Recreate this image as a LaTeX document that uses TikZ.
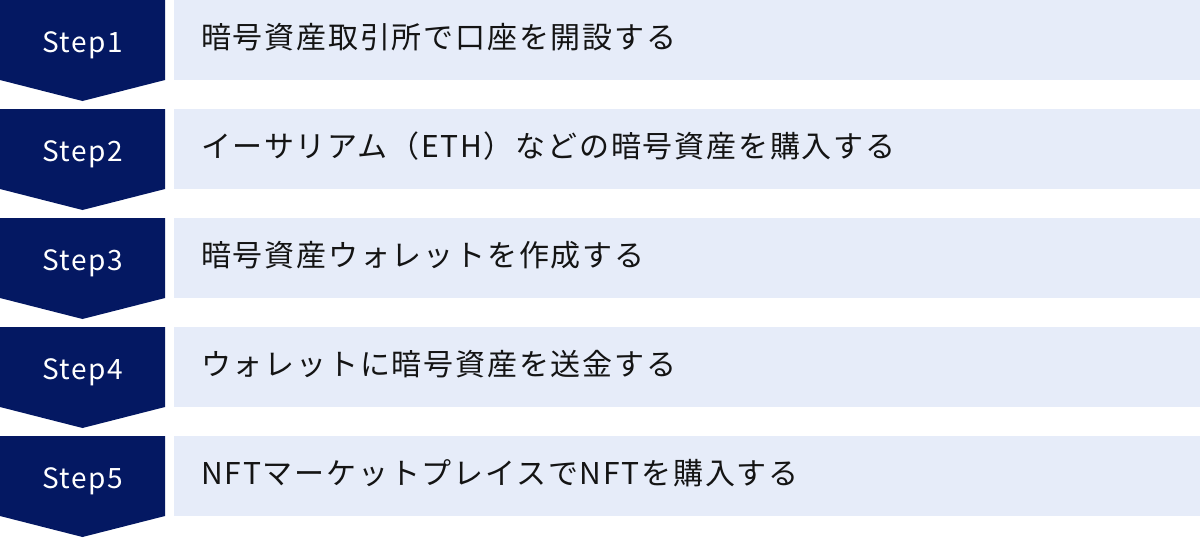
\documentclass[tikz,border=0pt]{standalone}
\usepackage{fontspec}
\setmainfont{Noto Sans CJK JP}
\usepackage{tikz}
\definecolor{stepnavy}{HTML}{041862}
\definecolor{tasklight}{HTML}{E6ECF9}
\definecolor{taskink}{HTML}{141414}
\tikzset{
  steplabel/.style={anchor=base, text=white, inner sep=0pt,
    font=\fontsize{28}{30}\selectfont\addfontfeatures{LetterSpace=5}},
  tasklabel/.style={anchor=base west, text=taskink, inner sep=0pt,
    font=\fontsize{30}{32}\selectfont\addfontfeatures{LetterSpace=6}},
}

\begin{document}
\begin{tikzpicture}[x=1pt, y=1pt]
            \useasboundingbox (0, 0) rectangle (1200, -538);
            % step 1
            \fill[stepnavy] (0, 0) -- (165, 0) -- (165, -80) -- (82.5, -101) -- (0, -80) -- cycle;
            \fill[tasklight] (174, 0) rectangle (1200, -80);
            \node[steplabel] (step1) at (82.5, -52) {Step1};
            \node[tasklabel] (task1) at (201, -48) {暗号資産取引所で口座を開設する};
            % step 2
            \fill[stepnavy] (0, -109) -- (165, -109) -- (165, -189) -- (82.5, -210) -- (0, -189) -- cycle;
            \fill[tasklight] (174, -109) rectangle (1200, -189);
            \node[steplabel] (step2) at (82.5, -161) {Step2};
            \node[tasklabel] (task2) at (201, -157) {イーサリアム（ETH）などの暗号資産を購入する};
            % step 3
            \fill[stepnavy] (0, -218) -- (165, -218) -- (165, -298) -- (82.5, -319) -- (0, -298) -- cycle;
            \fill[tasklight] (174, -218) rectangle (1200, -298);
            \node[steplabel] (step3) at (82.5, -270) {Step3};
            \node[tasklabel] (task3) at (201, -266) {暗号資産ウォレットを作成する};
            % step 4
            \fill[stepnavy] (0, -327) -- (165, -327) -- (165, -407) -- (82.5, -428) -- (0, -407) -- cycle;
            \fill[tasklight] (174, -327) rectangle (1200, -407);
            \node[steplabel] (step4) at (82.5, -379) {Step4};
            \node[tasklabel] (task4) at (201, -375) {ウォレットに暗号資産を送金する};
            % step 5
            \fill[stepnavy] (0, -436) -- (165, -436) -- (165, -516) -- (82.5, -537) -- (0, -516) -- cycle;
            \fill[tasklight] (174, -436) rectangle (1200, -516);
            \node[steplabel] (step5) at (82.5, -488) {Step5};
            \node[tasklabel] (task5) at (201, -484) {NFTマーケットプレイスでNFTを購入する};
\end{tikzpicture}
\end{document}
